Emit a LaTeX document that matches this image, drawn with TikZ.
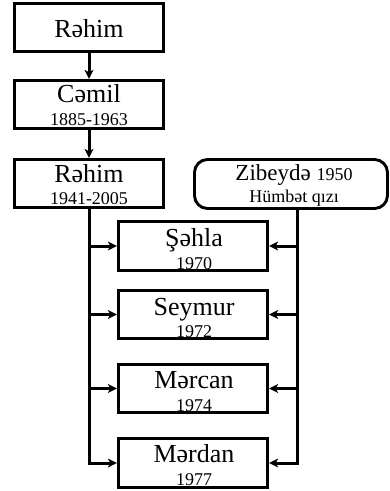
\documentclass[tikz,border=0pt]{standalone}
\usepackage{fontspec}
\setmainfont{Liberation Serif}
\usetikzlibrary{calc}
\tikzset{
 box/.style={draw, line width=2.9pt, minimum width=149.5pt, minimum height=48.5pt, inner sep=0pt},
 rbox/.style={draw, line width=2.9pt, rounded corners=13pt, minimum width=193pt, minimum height=49pt, inner sep=0pt},
 nm/.style={font=\fontsize{26}{26}\selectfont, anchor=base, inner sep=0pt},
 zn/.style={font=\fontsize{23}{23}\selectfont, anchor=base, inner sep=0pt},
 yr/.style={font=\fontsize{18}{18}\selectfont, anchor=base, inner sep=0pt},
 wire/.style={fill=black},
 tiphead/.style={fill=black},
}
\newcommand{\tipR}[1]{\fill[tiphead] (#1) -- ++(-9,-4.5) -- ++(2.5,4.5) -- ++(-2.5,4.5) -- cycle;}
\newcommand{\tipL}[1]{\fill[tiphead] (#1) -- ++(9,-4.5) -- ++(-2.5,4.5) -- ++(2.5,4.5) -- cycle;}
\newcommand{\tipD}[1]{\fill[tiphead] (#1) -- ++(-4.5,-9) -- ++(4.5,2.5) -- ++(4.5,-2.5) -- cycle;}
\begin{document}
\begin{tikzpicture}[x=1pt,y=-1pt]
\useasboundingbox (0,0) rectangle (390,491);
% ancestor boxes
\node[box] (r1) at (89,27.5) {};
\node[nm] (r1t) at (89,37) {Rəhim};
\node[box] (c1) at (89,104.5) {};
\node[nm] (c1t) at (89,102) {Cəmil};
\node[yr] (c1y) at (89,125) {1885-1963};
\node[box] (r2) at (89,183.5) {};
\node[nm] (r2t) at (89,182) {Rəhim};
\node[yr] (r2y) at (89,204.5) {1941-2005};
% spouse
\node[rbox] (z) at (291,184) {};
\node[zn] (zt) at (294,180) {Zibeydə {\fontsize{18}{18}\selectfont 1950}};
\node[font=\fontsize{18}{18}\selectfont, anchor=base, inner sep=0pt] (zy) at (294,202.5) {Hümbət qızı};
% children
\node[box] (s1) at (193,246) {};
\node[nm] (s1t) at (194,246) {Şəhla};
\node[yr] (s1y) at (194,269) {1970};
\node[box] (s2) at (193,314.5) {};
\node[nm] (s2t) at (194,315) {Seymur};
\node[yr] (s2y) at (194,337) {1972};
\node[box] (s3) at (193,388.5) {};
\node[nm] (s3t) at (194,388.5) {Mərcan};
\node[yr] (s3y) at (194,411) {1974};
\node[box] (s4) at (193,463) {};
\node[nm] (s4t) at (194,462.7) {Mərdan};
\node[yr] (s4y) at (194,485.5) {1977};
% connectors: line bodies
\fill[wire] ($(r1.south)+(-1.5,0)$) rectangle ($(c1.north)+(1.5,-5)$);
\fill[wire] ($(c1.south)+(-1.5,0)$) rectangle ($(r2.north)+(1.5,-5)$);
\fill[wire] ($(r2.south)+(-1.5,0)$) rectangle ($(r2.south |- s4.west)+(1.5,1.5)$);
\fill[wire] ($(r2.south |- s1.west)+(-1.5,-1.5)$) rectangle ($(s1.west)+(-5,1.5)$);
\fill[wire] ($(r2.south |- s2.west)+(-1.5,-1.5)$) rectangle ($(s2.west)+(-5,1.5)$);
\fill[wire] ($(r2.south |- s3.west)+(-1.5,-1.5)$) rectangle ($(s3.west)+(-5,1.5)$);
\fill[wire] ($(r2.south |- s4.west)+(-1.5,-1.5)$) rectangle ($(s4.west)+(-5,1.5)$);
\coordinate (zb) at ($(z.south)+(6.5,0)$);
\fill[wire] ($(zb)+(-1.5,0)$) rectangle ($(zb |- s4.east)+(1.5,1.5)$);
\fill[wire] ($(zb |- s1.east)+(1.5,-1.5)$) rectangle ($(s1.east)+(5,1.5)$);
\fill[wire] ($(zb |- s2.east)+(1.5,-1.5)$) rectangle ($(s2.east)+(5,1.5)$);
\fill[wire] ($(zb |- s3.east)+(1.5,-1.5)$) rectangle ($(s3.east)+(5,1.5)$);
\fill[wire] ($(zb |- s4.east)+(1.5,-1.5)$) rectangle ($(s4.east)+(5,1.5)$);
% connectors: arrowheads
\tipD{c1.north}
\tipD{r2.north}
\tipR{s1.west}
\tipR{s2.west}
\tipR{s3.west}
\tipR{s4.west}
\tipL{s1.east}
\tipL{s2.east}
\tipL{s3.east}
\tipL{s4.east}
\end{tikzpicture}
\end{document}
